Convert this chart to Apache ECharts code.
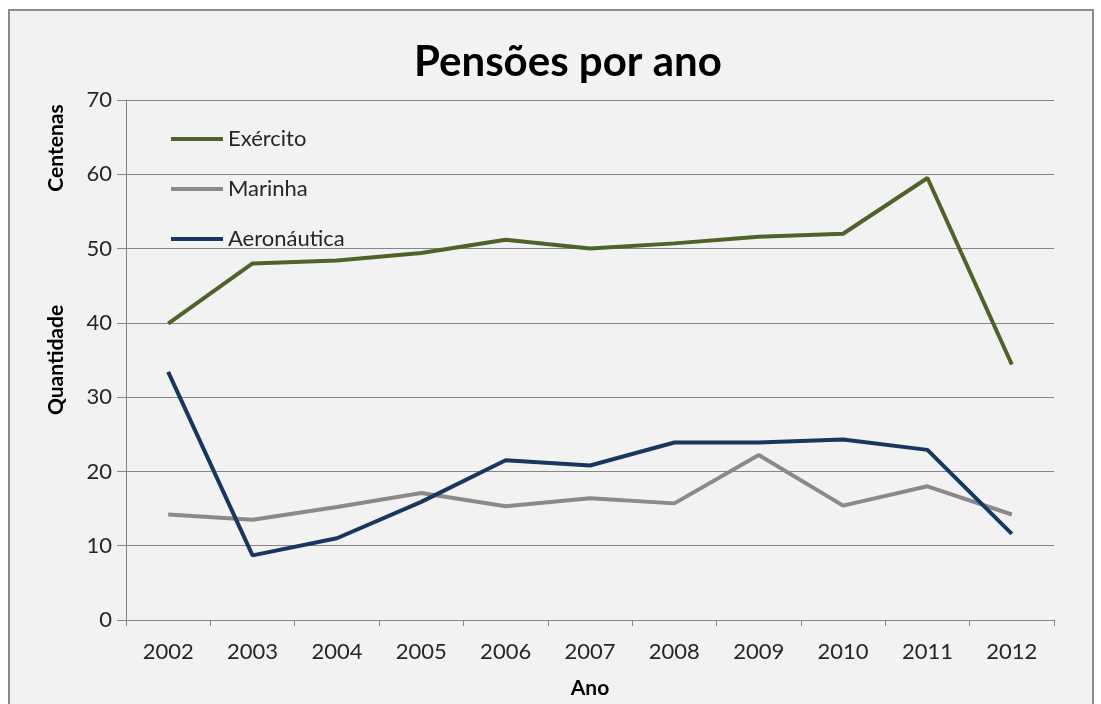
<!DOCTYPE html>
<html>
<head>
<meta charset="UTF-8">
<title>Pensões por ano</title>
<script src="https://cdn.jsdelivr.net/npm/echarts@6/dist/echarts.min.js"></script>
<style>
  html, body {margin:0; padding:0; background:#fff;}
  #chart {width:1101px; height:704px;}
</style>
</head>
<body>
<div id="chart"></div>
<script>
// dados (centenas)
var anos = ['2002','2003','2004','2005','2006','2007','2008','2009','2010','2011','2012'];
var exercito = [39.9, 48.0, 48.4, 49.4, 51.2, 50.0, 50.7, 51.6, 52.0, 59.5, 34.4];
var marinha = [14.2, 13.5, 15.2, 17.1, 15.3, 16.4, 15.7, 22.2, 15.4, 18.0, 14.2];
var aeronautica = [33.4, 8.7, 11.0, 15.9, 21.5, 20.8, 23.9, 23.9, 24.3, 22.9, 11.6];

var fonte = 'Lato, "Open Sans", sans-serif';
var chart = echarts.init(document.getElementById('chart'), null, {renderer:'canvas'});

var option = {
  backgroundColor: '#fff',
  animation: false,
  title: {
    text: 'Pensões por ano',
    left: 409,
    top: 36,
    textStyle: {fontFamily: fonte, fontSize: 42, fontWeight: 'bold', color: '#000'}
  },
  legend: {
    orient: 'vertical',
    left: 166,
    top: 123,
    itemWidth: 52,
    itemHeight: 4,
    itemGap: 28,
    icon: 'rect',
    textStyle: {fontFamily: fonte, fontSize: 22, color: '#262626'},
    data: ['Exército', 'Marinha', 'Aeronáutica']
  },
  grid: {left: 126, right: 47, top: 100, bottom: 84, containLabel: false, outerBoundsMode: 'none'},
  xAxis: {
    type: 'category',
    data: anos,
    boundaryGap: true,
    name: 'Ano',
    nameLocation: 'middle',
    nameGap: 58,
    nameTextStyle: {fontFamily: fonte, fontSize: 21, fontWeight: 'bold', color: '#000'},
    axisLine: {lineStyle: {color: '#868686'}},
    axisTick: {show: true, length: 6, lineStyle: {color: '#868686'}},
    axisLabel: {fontFamily: fonte, fontSize: 22, color: '#262626', margin: 21}
  },
  yAxis: {
    type: 'value',
    min: 0,
    max: 70,
    interval: 10,
    axisLine: {show: true, lineStyle: {color: '#868686'}},
    axisTick: {show: true, length: 9, lineStyle: {color: '#868686'}},
    axisLabel: {fontFamily: fonte, fontSize: 22, color: '#262626', margin: 14},
    splitLine: {lineStyle: {color: '#868686', width: 1}}
  },
  series: [
    {name: 'Exército', type: 'line', data: exercito, symbol: 'none',
     itemStyle: {color: '#4f6228'}, lineStyle: {width: 4, color: '#4f6228'}},
    {name: 'Marinha', type: 'line', data: marinha, symbol: 'none',
     itemStyle: {color: '#8a8a8a'}, lineStyle: {width: 4, color: '#8a8a8a'}},
    {name: 'Aeronáutica', type: 'line', data: aeronautica, symbol: 'none',
     itemStyle: {color: '#17375e'}, lineStyle: {width: 4, color: '#17375e'}}
  ],
  graphic: [
    {type: 'rect', z: -10, silent: true,
     shape: {x: 9, y: 10, width: 1084, height: 700},
     style: {fill: '#f2f2f2', stroke: '#8c8c8c', lineWidth: 2}},
    {type: 'text', x: 56, y: 148, rotation: Math.PI / 2,
     style: {text: 'Centenas', font: 'bold 21px ' + fonte, fill: '#000', textAlign: 'center', textVerticalAlign: 'middle'}},
    {type: 'text', x: 56, y: 360, rotation: Math.PI / 2,
     style: {text: 'Quantidade', font: 'bold 21px ' + fonte, fill: '#000', textAlign: 'center', textVerticalAlign: 'middle'}}
  ]
};

chart.setOption(option);
</script>
</body>
</html>
